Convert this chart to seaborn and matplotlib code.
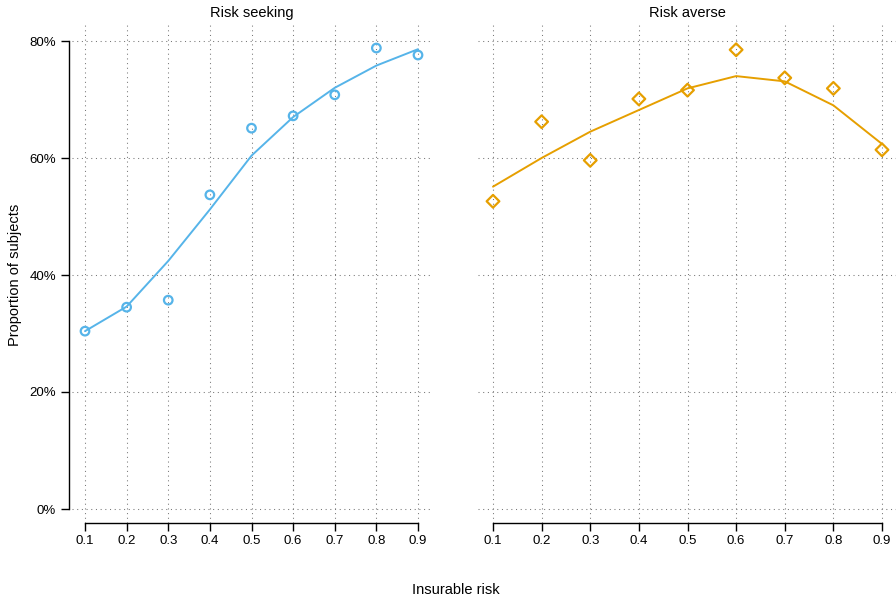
import numpy as np
import pandas as pd
import matplotlib
matplotlib.use("Agg")
import matplotlib.pyplot as plt
import seaborn as sns
from matplotlib.ticker import FuncFormatter

# datos
riesgo = [0.1, 0.2, 0.3, 0.4, 0.5, 0.6, 0.7, 0.8, 0.9]
seeking_obs = [30.4, 34.5, 35.7, 53.7, 65.1, 67.2, 70.8, 78.8, 77.6]
seeking_fit = [30.4, 34.6, 42.4, 51.2, 60.4, 67.0, 72.0, 75.8, 78.6]
averse_obs = [52.6, 66.2, 59.6, 70.1, 71.6, 78.5, 73.7, 71.9, 61.4]
averse_fit = [55.1, 60.0, 64.5, 68.2, 71.9, 74.0, 73.1, 69.0, 62.4]

paneles = ["Risk seeking", "Risk averse"]
colores = {"Risk seeking": "#56B4E9", "Risk averse": "#E69F00"}
marcadores = {"Risk seeking": "o", "Risk averse": "D"}

df = pd.DataFrame({
    "riesgo": riesgo * 2,
    "obs": seeking_obs + averse_obs,
    "fit": seeking_fit + averse_fit,
    "grupo": ["Risk seeking"] * 9 + ["Risk averse"] * 9,
})

sns.set_theme(style="white")
plt.rcParams["font.family"] = ["Liberation Sans", "DejaVu Sans"]
plt.rcParams["text.color"] = "black"
plt.rcParams["xtick.color"] = "black"
plt.rcParams["ytick.color"] = "black"
plt.rcParams["axes.labelcolor"] = "black"

fig = plt.figure(figsize=(8.96, 6.02), dpi=100)
W, H = 896, 602

def caja(x0, x1, y0, y1):
    return [x0 / W, 1 - y1 / H, (x1 - x0) / W, (y1 - y0) / H]

# posiciones en pixeles: 0.1 -> x_a, 0.9 -> x_b ; 0% -> 509, 80% -> 41
ejes_px = {"Risk seeking": (85, 418), "Risk averse": (493, 882)}
y0_px, y80_px = 509, 41
top_px, bot_px = 25, 523

for nombre in paneles:
    xa, xb = ejes_px[nombre]
    ppu = (xb - xa) / 0.8
    left_px = xa - 13.5 if nombre == "Risk seeking" else xa - 15.5
    right_px = xb + (xb - xa) * 0.04
    ax = fig.add_axes(caja(left_px, right_px, top_px, bot_px))
    ax.set_xlim(0.1 - (xa - left_px) / ppu, 0.9 + (right_px - xb) / ppu)
    ppy = (y0_px - y80_px) / 80
    ax.set_ylim(-(bot_px - y0_px) / ppy, 80 + (y80_px - top_px) / ppy)

    sub = df[df["grupo"] == nombre]
    c = colores[nombre]
    sns.lineplot(data=sub, x="riesgo", y="fit", color=c, lw=1.4, ax=ax, zorder=3)
    sns.scatterplot(data=sub, x="riesgo", y="obs", marker=marcadores[nombre],
                    facecolors="none", edgecolor=c, linewidth=1.6,
                    s=38 if nombre == "Risk seeking" else 42, ax=ax, zorder=4)

    ax.set_xticks(riesgo)
    ax.set_xticklabels([f"{v:.1f}" for v in riesgo], fontsize=9.5)
    ax.set_yticks([0, 20, 40, 60, 80])
    ax.yaxis.set_major_formatter(FuncFormatter(lambda v, p: f"{v:.0f}%"))
    ax.grid(True, color="#777777", linestyle=(0, (1, 3.5)), linewidth=0.75)
    ax.set_axisbelow(True)
    for s in ["top", "right"]:
        ax.spines[s].set_visible(False)
    ax.spines["bottom"].set_bounds(0.1, 0.9)
    ax.spines["bottom"].set_color("black")
    ax.spines["bottom"].set_linewidth(1.0)
    ax.tick_params(axis="x", direction="out", length=6, width=1.0, color="black",
                   labelsize=9.5, pad=3, bottom=True)
    if nombre == "Risk seeking":
        ax.spines["left"].set_position(("outward", 2))
        ax.spines["left"].set_bounds(0, 80)
        ax.spines["left"].set_color("black")
        ax.spines["left"].set_linewidth(1.0)
        ax.tick_params(axis="y", direction="out", length=6, width=1.0, color="black",
                       labelsize=9.5, pad=3, left=True)
    else:
        ax.spines["left"].set_visible(False)
        ax.tick_params(axis="y", left=False, labelleft=False)
    ax.set_xlabel("")
    ax.set_ylabel("")
    ax.set_title(nombre, fontsize=10.5, pad=6)

fig.text(15 / W, 1 - 275 / H, "Proportion of subjects", rotation=90,
         ha="center", va="center", fontsize=10.5)
fig.text(456 / W, 1 - 590 / H, "Insurable risk", ha="center", va="center", fontsize=10.5)

plt.savefig("out.png", dpi=100)
